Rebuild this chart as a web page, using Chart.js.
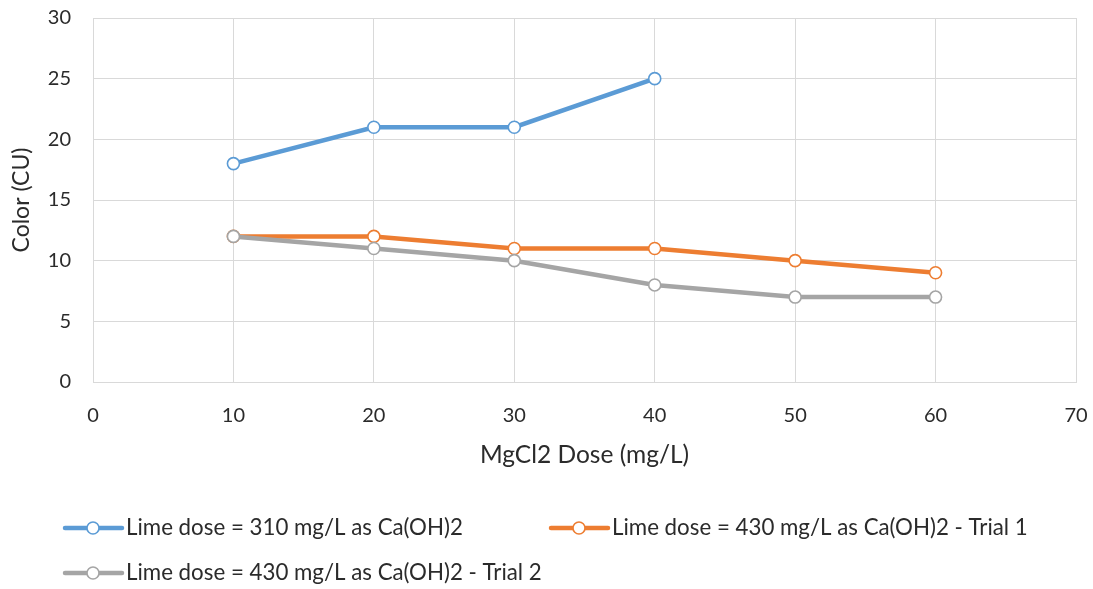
<!DOCTYPE html>
<html>
<head>
<meta charset="utf-8">
<script src="https://cdn.jsdelivr.net/npm/chart.js@4.4.1/dist/chart.umd.min.js"></script>
<style>
  html, body { margin: 0; padding: 0; background: #fff; }
  #wrap { width: 1093px; height: 589px; }
</style>
</head>
<body>
<div id="wrap"><canvas id="chart" width="1093" height="589"></canvas></div>
<script>
// MgCl2 dose (mg/L) on x, colour (CU) on y
const doses = [10, 20, 30, 40, 50, 60];
const lime310 = [18, 21, 21, 25];
const lime430Trial1 = [12, 12, 11, 11, 10, 9];
const lime430Trial2 = [12, 11, 10, 8, 7, 7];
const seriesNames = [
    "Lime dose = 310 mg/L as Ca(OH)2",
    "Lime dose = 430 mg/L as Ca(OH)2 - Trial 1",
    "Lime dose = 430 mg/L as Ca(OH)2 - Trial 2"
];
const seriesColors = ["#5B9BD5", "#ED7D31", "#A5A5A5"];
const xTicks = [0, 10, 20, 30, 40, 50, 60, 70];
const yTicks = [0, 5, 10, 15, 20, 25, 30];

const FONT = "Lato, 'Open Sans', sans-serif";
const TEXT = "#2b2b2b";

function toPoints(values) {
    return values.map((v, i) => ({ x: doses[i], y: v }));
}

function lineSet(idx, values, order) {
    return {
        label: seriesNames[idx],
        data: toPoints(values),
        borderColor: seriesColors[idx],
        backgroundColor: "#ffffff",
        borderWidth: 4.5,
        tension: 0,
        pointRadius: 6,
        pointBorderWidth: 1.6,
        pointBackgroundColor: "#ffffff",
        pointBorderColor: seriesColors[idx],
        order: order
    };
}

// legend laid out in two fixed columns under the plot
const bottomLegend = {
    id: "bottomLegend",
    afterDraw(chart) {
        const ctx = chart.ctx;
        const slots = [
            { x: 65, y: 528 },
            { x: 551, y: 528 },
            { x: 65, y: 573 }
        ];
        ctx.save();
        slots.forEach((s, i) => {
            ctx.strokeStyle = seriesColors[i];
            ctx.lineWidth = 4.5;
            ctx.lineCap = "round";
            ctx.beginPath();
            ctx.moveTo(s.x, s.y);
            ctx.lineTo(s.x + 57, s.y);
            ctx.stroke();
            ctx.fillStyle = "#fff";
            ctx.lineWidth = 1.6;
            ctx.beginPath();
            ctx.arc(s.x + 28, s.y, 6, 0, Math.PI * 2);
            ctx.fill();
            ctx.stroke();
            ctx.fillStyle = TEXT;
            ctx.font = "22.3px " + FONT;
            ctx.textAlign = "left";
            ctx.textBaseline = "middle";
            ctx.fillText(seriesNames[i], s.x + 61, s.y);
        });
        ctx.restore();
    }
};

new Chart(document.getElementById("chart").getContext("2d"), {
    type: "line",
    data: {
        datasets: [
            lineSet(0, lime310, 2),
            lineSet(1, lime430Trial1, 1),
            lineSet(2, lime430Trial2, 0)
        ]
    },
    options: {
        responsive: false,
        animation: false,
        layout: { padding: { top: 18, right: 17, bottom: 117, left: 0 } },
        plugins: {
            legend: { display: false },
            tooltip: { enabled: false }
        },
        scales: {
            x: {
                type: "linear",
                min: 0,
                max: 70,
                afterBuildTicks: (s) => { s.ticks = xTicks.map(v => ({ value: v })); },
                afterFit: (s) => {
                    s.height = 90;
                    s.paddingLeft = 0;
                    s.paddingRight = 0;
                },
                grid: { color: "#d9d9d9", lineWidth: 1, drawTicks: false },
                border: { color: "#d9d9d9" },
                ticks: { padding: 22, color: TEXT, font: { family: FONT, size: 20 } },
                title: {
                    display: true,
                    text: "MgCl2 Dose (mg/L)",
                    color: TEXT,
                    font: { family: FONT, size: 24.5 },
                    padding: { bottom: 2 }
                }
            },
            y: {
                min: 0,
                max: 30,
                afterBuildTicks: (s) => { s.ticks = yTicks.map(v => ({ value: v })); },
                afterFit: (s) => {
                    s.width = 93;
                    s.paddingTop = 0;
                    s.paddingBottom = 0;
                },
                grid: { color: "#d9d9d9", lineWidth: 1, drawTicks: false },
                border: { color: "#d9d9d9" },
                ticks: { padding: 22, color: TEXT, font: { family: FONT, size: 20 } },
                title: {
                    display: true,
                    text: "Color (CU)",
                    color: TEXT,
                    font: { family: FONT, size: 23 },
                    padding: { top: 8 }
                }
            }
        }
    },
    plugins: [bottomLegend]
});
</script>
</body>
</html>
